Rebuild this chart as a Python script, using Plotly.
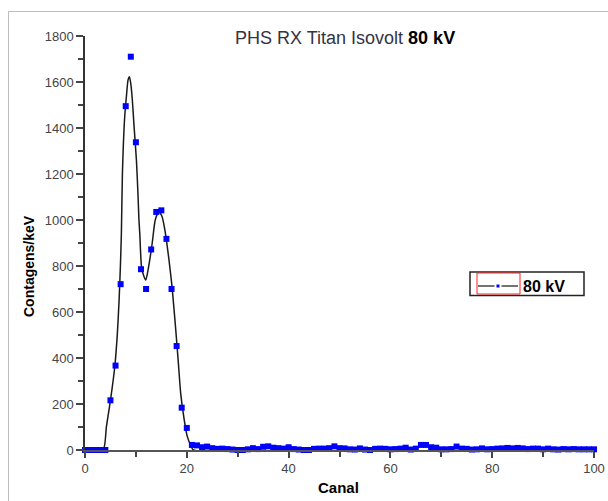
import plotly.graph_objects as go

# ---- data ----
canal = list(range(0, 101))
contagens = [
    0, 0, 0, 0, 0, 216, 367, 721, 1495, 1710,
    1338, 786, 700, 872, 1035, 1042, 918, 700, 452, 184,
    96, 22, 20, 12, 15, 8, 5, 6, 4, 2,
    0, 0, 3, 8, 4, 14, 16, 10, 8, 6,
    12, 4, 2, 0, 0, 5, 6, 6, 8, 16,
    8, 7, 3, 2, 7, 2, 0, 5, 6, 5,
    3, 4, 6, 10, 2, 6, 22, 22, 12, 10,
    3, 3, 4, 15, 6, 5, 2, 3, 7, 3,
    4, 6, 7, 9, 7, 9, 7, 4, 6, 6,
    3, 6, 3, 2, 4, 3, 4, 3, 3, 3, 3,
]

fit_x = [0, 3.55, 4.2, 5.0, 5.85, 6.36, 6.7, 6.95, 7.15, 7.35, 7.8, 8.13, 8.46,
         8.72, 8.99, 9.3, 9.64, 10.1, 10.4, 10.6, 10.76, 11.1, 11.6, 11.94, 12.5,
         13.2, 13.8, 14.5, 15.15, 15.8, 16.5, 17.1, 17.78, 18.3, 18.8, 19.5, 20.1,
         20.9, 21.3, 100]
fit_y = [0, 0, 101, 216, 362, 507, 652, 797, 942, 1200, 1449, 1536, 1609,
         1623, 1594, 1522, 1406, 1261, 1116, 1000, 942, 797, 753, 739, 797,
         899, 1000, 1036, 1014, 942, 826, 710, 536, 391, 246, 130, 58,
         14, 0, 0]

x_ticks = [0, 20, 40, 60, 80, 100]
y_ticks = [0, 200, 400, 600, 800, 1000, 1200, 1400, 1600, 1800]
series_name = "80 kV"

W, H = 608, 501
# plot area in page pixels: x 85..594, y 36..450
L, R, T, B = 85, W - 594, 36, H - 450
pw, ph = W - L - R, H - T - B

def px2paper_x(px):
    return (px - L) / pw

def px2paper_y(py):
    return (H - B - py) / ph

FONT = "Liberation Sans, Arial, sans-serif"

fig = go.Figure()

fig.add_trace(go.Scatter(
    x=fit_x, y=fit_y, mode="lines",
    line=dict(color="#1a1a1a", width=1.5, shape="spline", smoothing=0.6),
    showlegend=False, cliponaxis=False, hoverinfo="skip"))

fig.add_trace(go.Scatter(
    x=canal, y=contagens, mode="markers",
    marker=dict(symbol="square", size=6, color="#0000ff", line=dict(width=0)),
    showlegend=False, cliponaxis=False))

# legend entry (line + symbol)
fig.add_trace(go.Scatter(
    x=[None], y=[None], mode="lines+markers", name=series_name,
    line=dict(color="#444444", width=1.5),
    marker=dict(symbol="square", size=5, color="#0000ff", line=dict(width=2, color="white"))))

tickfont = dict(family=FONT, size=13, color="#444444")

def line_shape(x0, y0, x1, y1, color, width=1):
    return dict(type="line", xref="paper", yref="paper",
                x0=px2paper_x(x0), x1=px2paper_x(x1),
                y0=px2paper_y(y0), y1=px2paper_y(y1),
                line=dict(color=color, width=width), layer="above")

fig.update_layout(
    width=W, height=H,
    margin=dict(l=L, r=R, t=T, b=B, autoexpand=False),
    paper_bgcolor="white", plot_bgcolor="white",
    showlegend=True,
    legend=dict(
        x=px2paper_x(473), y=px2paper_y(269), xanchor="left", yanchor="top",
        borderwidth=0, bgcolor="rgba(0,0,0,0)",
        font=dict(family=FONT, size=16, color="black", weight="bold"),
        itemwidth=40, tracegroupgap=0,
    ),
    xaxis=dict(
        range=[0, 100], tickvals=x_ticks, ticktext=[str(v) for v in x_ticks],
        showgrid=False, zeroline=False, showline=True, linecolor="#555555", linewidth=1.5,
        ticks="outside", ticklen=6, tickwidth=1.5, tickcolor="#444444",
        minor=dict(dtick=10, ticks="outside", ticklen=5, tickwidth=1.5, tickcolor="#444444"),
        tickfont=tickfont, fixedrange=True, automargin=False,
    ),
    yaxis=dict(
        range=[0, 1800], tickvals=y_ticks, ticktext=[str(v) for v in y_ticks],
        showgrid=False, zeroline=False, showline=True, linecolor="#333333", linewidth=1.5,
        ticks="outside", ticklen=7, tickwidth=1.5, tickcolor="#444444",
        minor=dict(dtick=100, ticks="outside", ticklen=5, tickwidth=1.5, tickcolor="#444444"),
        tickfont=tickfont, fixedrange=True, automargin=False,
    ),
    shapes=[
        # outer light-grey frame (top and left edges visible)
        line_shape(8.5, 11.5, 608, 11.5, "#bdbdbd"),
        line_shape(8.5, 11.5, 8.5, 501, "#bdbdbd"),
        # legend frame
        dict(type="rect", xref="paper", yref="paper",
             x0=px2paper_x(470), x1=px2paper_x(584), y0=px2paper_y(295.5), y1=px2paper_y(272),
             line=dict(color="#222222", width=1.5), fillcolor="rgba(0,0,0,0)"),
        # red selection box around legend symbol
        dict(type="rect", xref="paper", yref="paper",
             x0=px2paper_x(477), x1=px2paper_x(520), y0=px2paper_y(294), y1=px2paper_y(273),
             line=dict(color="#ff2020", width=1), fillcolor="rgba(0,0,0,0)"),
    ],
    annotations=[
        dict(text="<span style='color:#333344'>PHS RX Titan Isovolt</span> <b>80 kV</b>",
             xref="paper", yref="paper", x=px2paper_x(345), y=px2paper_y(38),
             xanchor="center", yanchor="middle", showarrow=False,
             font=dict(family=FONT, size=18, color="black")),
        dict(text="<b>Contagens/keV</b>", textangle=-90,
             xref="paper", yref="paper", x=px2paper_x(29), y=px2paper_y(266),
             xanchor="center", yanchor="middle", showarrow=False,
             font=dict(family=FONT, size=14, color="black")),
        dict(text="<b>Canal</b>",
             xref="paper", yref="paper", x=px2paper_x(338), y=px2paper_y(487),
             xanchor="center", yanchor="middle", showarrow=False,
             font=dict(family=FONT, size=15, color="black")),
    ],
)

fig.write_html("out.html", config={"displayModeBar": False},
               post_script="document.body.style.margin='0';document.body.style.overflow='hidden';")
